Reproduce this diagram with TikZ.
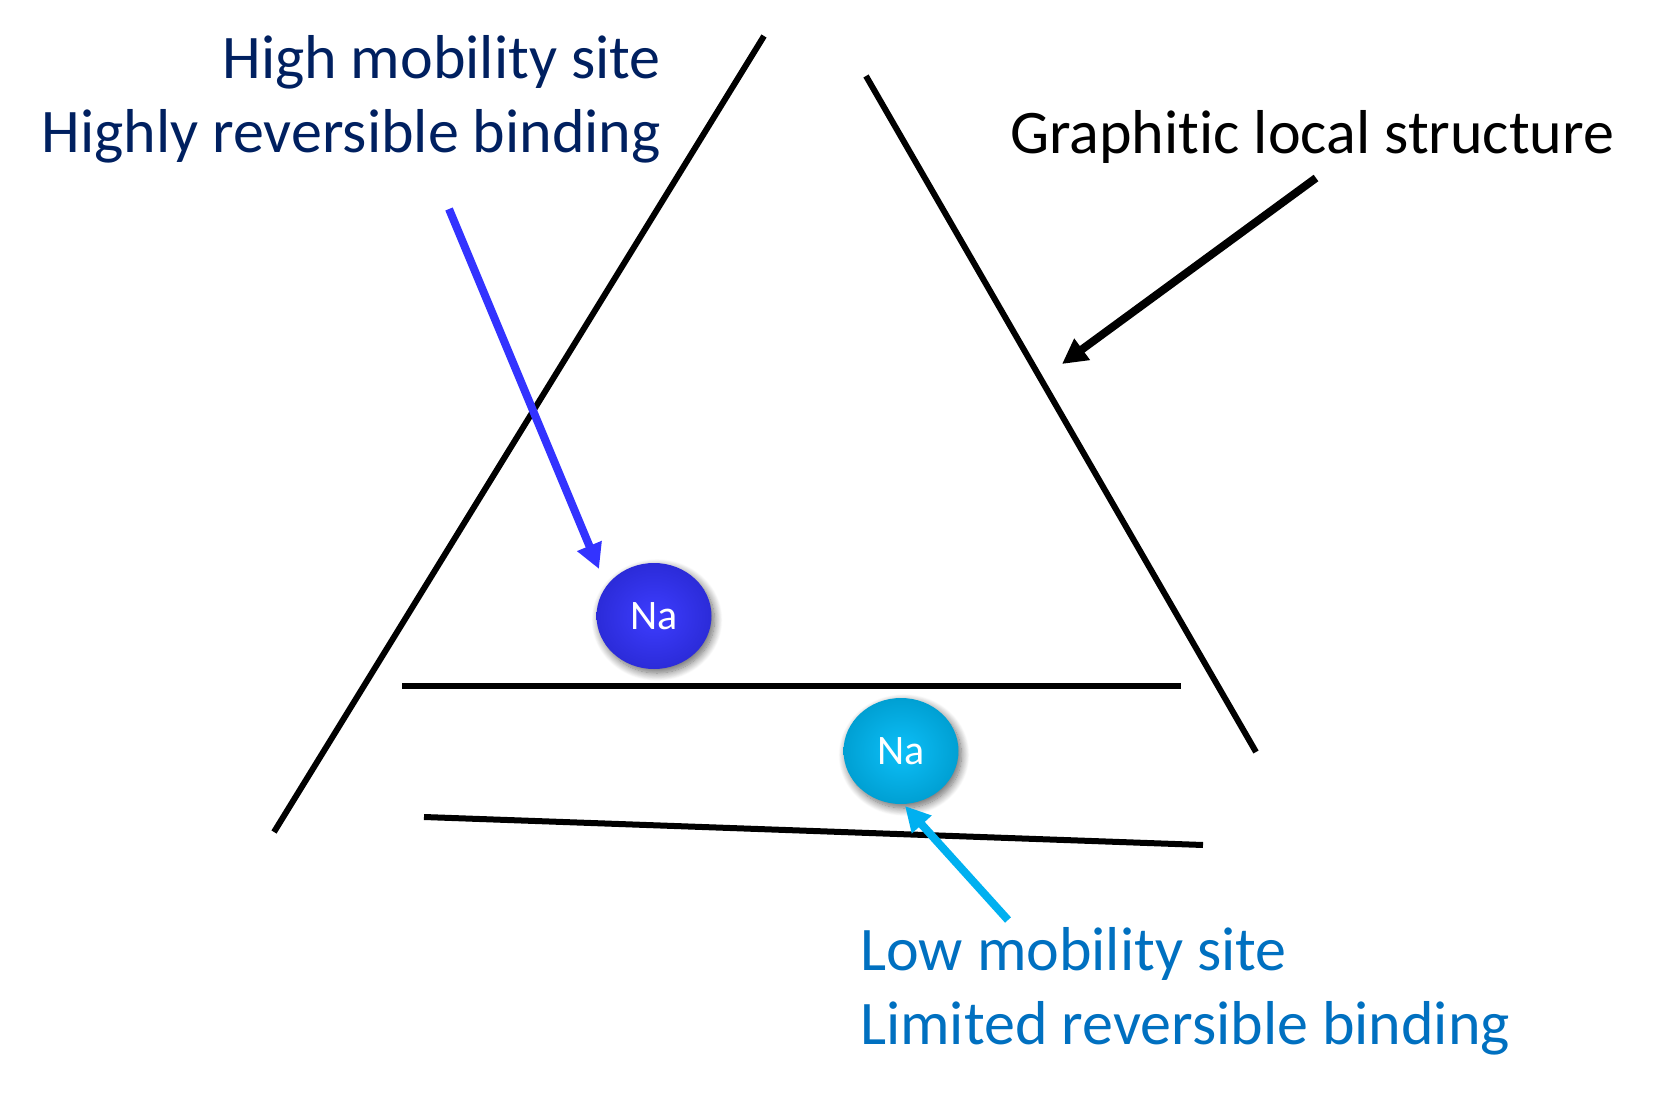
\documentclass[tikz,border=0pt]{standalone}
\usepackage{fontspec}
\setmainfont{Carlito}[Ligatures=NoCommon]
\usetikzlibrary{arrows.meta,shadows.blur,shapes.geometric}
\definecolor{navy}{HTML}{002060}
\definecolor{lowblue}{HTML}{0070C0}
\definecolor{arrblue}{HTML}{3333FF}
\definecolor{arrcyan}{HTML}{00B0F0}
\definecolor{ballblue}{HTML}{3333FF}
\definecolor{ballcyan}{HTML}{00BCF8}
\tikzset{
  wall/.style={line width=6pt, black},
  ptr/.style={line width=8pt, -{Triangle[length=25pt,width=25pt]}},
  lbl/.style={font=\fontsize{62}{74}\selectfont, inner sep=0pt, align=#1},
  ion/.style={ellipse, minimum width=115pt, minimum height=106pt, inner sep=0pt,
    text=white, font=\fontsize{42}{44}\selectfont,
    inner color=#1!95!white, outer color=#1!85!black,
    blur shadow={shadow xshift=3pt, shadow yshift=-4pt, shadow blur steps=12, shadow blur radius=8pt, shadow opacity=60}},
}
\begin{document}
\begin{tikzpicture}[x=1pt,y=-1pt]
\useasboundingbox (0,0) rectangle (1655,1099);
% walls
\coordinate (l1) at (764,36);  \coordinate (l2) at (274,832);
\coordinate (r1) at (866,76);  \coordinate (r2) at (1256,752);
\coordinate (h1) at (402,685.5); \coordinate (h2) at (1181,685.5);
\coordinate (b1) at (424,817); \coordinate (b2) at (1203,845);
\draw[wall] (l1) -- (l2);
\draw[wall] (r1) -- (r2);
\draw[wall] (h1) -- (h2);
\draw[wall] (b1) -- (b2);
% ions
\node[ion=ballblue] (na1) at (654,616) {Na};
\node[ion=ballcyan] (na2) at (901,751) {Na};
% labels
\node[lbl=right, text=navy, anchor=east] (hi) at (661,99) {High mobility site\\Highly reversible binding};
\node[lbl=left, text=black, anchor=west] (gr) at (1010,137) {Graphitic local structure};
\node[lbl=left, text=lowblue, anchor=west] (lo) at (860,991) {Low mobility site\\Limited reversible binding};
% arrows
\coordinate (ahs) at (449,209);
\coordinate (ahe) at (599,569);
\draw[ptr, arrblue] (ahs) -- (ahe);
\coordinate (ags) at (1316,178);
\coordinate (age) at (1062,364);
\draw[ptr, black] (ags) -- (age);
\coordinate (als) at (1008,920);
\coordinate (ale) at (905,806);
\draw[ptr, arrcyan] (als) -- (ale);
\end{tikzpicture}
\end{document}
